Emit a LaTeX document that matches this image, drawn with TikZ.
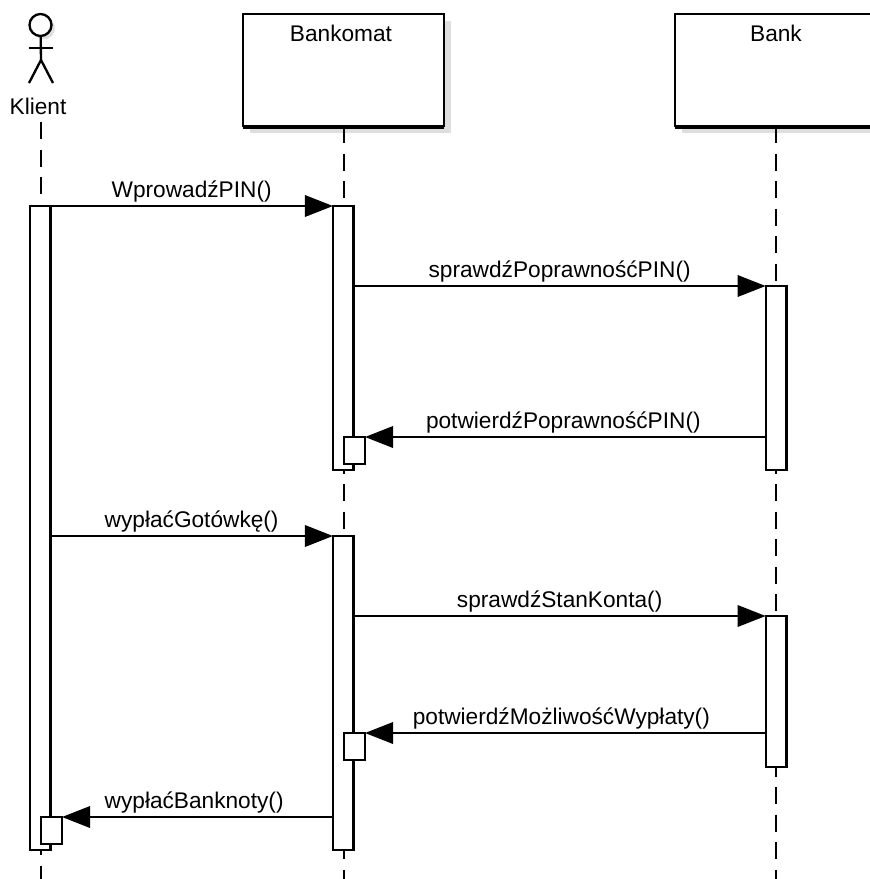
\documentclass[tikz,border=0pt]{standalone}
\usepackage{fontspec}
\setmainfont{Liberation Sans}
\usetikzlibrary{arrows.meta,shadows}

\tikzset{
  objbox/.style={draw, fill=white, line width=1.75pt, anchor=north west, inner sep=0pt, outer sep=0pt,
    minimum width=150.75pt, minimum height=84pt,
    drop shadow={shadow xshift=5.5pt, shadow yshift=-5.5pt, opacity=1, fill=black!13}},
  actbar/.style={draw, fill=white, line width=1.75pt, anchor=north, inner sep=0pt, outer sep=0pt, minimum width=15.5pt},
  subbar/.style={actbar, anchor=north west, minimum width=15.75pt, minimum height=20pt},
  lifeline/.style={line width=1.75pt, dash pattern=on 12.75pt off 7.91pt},
  msg/.style={line width=1.75pt, -{Triangle[length=21pt,width=16pt]}},
  msglabel/.style={anchor=base, yshift=6.75pt, inner sep=0pt},
}

\begin{document}
\begin{tikzpicture}[x=0.75pt, y=-0.75pt, font=\fontsize{17}{20}\selectfont]
\useasboundingbox (0,0) rectangle (869,879);

% lifeline ends
\coordinate (kTop) at (41,122);
\coordinate (kEnd) at (41,879);
\coordinate (atmEnd) at (344,879);
\coordinate (bankEnd) at (776,879);

% klient
\node[circle, draw, fill=white, line width=1.75pt, inner sep=0pt, outer sep=0pt, minimum size=16.5pt,
  drop shadow={shadow xshift=2.5pt, shadow yshift=-2.5pt, opacity=1, fill=black!13}] (kHead) at (40.5,25) {};
\coordinate (kHip) at (41,60);
\coordinate (kArmL) at (29,48);
\coordinate (kArmR) at (53,48);
\coordinate (kFootL) at (29,83);
\coordinate (kFootR) at (53,83);
\draw[line width=1.75pt] (kHead) -- (kHip);
\draw[line width=1.75pt] (kArmL) -- (kArmR);
\draw[line width=1.75pt] (kFootL) -- (kHip) -- (kFootR);
\node[anchor=base, inner sep=0pt] (kLabel) at (38,114) {Klient};

% objects
\node[objbox] (atmBox) at (243,14) {};
\node[objbox] (bankBox) at (675,14) {};
\draw[line width=1.75pt] ([yshift=-1.2pt]atmBox.south west) -- ([yshift=-1.2pt]atmBox.south east);
\draw[line width=1.75pt] ([yshift=-1.2pt]bankBox.south west) -- ([yshift=-1.2pt]bankBox.south east);
\node[anchor=base, inner sep=0pt] (atmLabel) at (341,41) {Bankomat};
\node[anchor=base, inner sep=0pt] (bankLabel) at (776,41) {Bank};

% lifelines
\draw[lifeline] (kTop) -- (kEnd);
\draw[lifeline] (atmBox.south -| atmEnd) -- (atmEnd);
\draw[lifeline] (bankBox.south -| bankEnd) -- (bankEnd);

% activations
\node[actbar, minimum height=483pt] (kBar) at (40,206) {};
\node[actbar, minimum height=198pt] (atmBarA) at (343.3,206) {};
\node[actbar, minimum height=235.5pt] (atmBarB) at (343.3,536) {};
\node[actbar, minimum height=138pt] (bankBarA) at (776,286) {};
\node[actbar, minimum height=113.25pt] (bankBarB) at (776,616) {};
\node[subbar] (atmSubA) at (344,437) {};
\node[subbar] (atmSubB) at (344,733) {};
\node[subbar] (kSub) at (41,817) {};

% messages
\draw[msg] (kBar.north east) -- node[msglabel] {WprowadźPIN()} (atmBarA.north west);
\draw[msg] (atmBarA.east |- bankBarA.north) -- node[msglabel] {sprawdźPoprawnośćPIN()} (bankBarA.north west);
\draw[msg] (bankBarA.west |- atmSubA.north) -- node[msglabel, xshift=-1.5pt] {potwierdźPoprawnośćPIN()} (atmSubA.north east);
\draw[msg] (kBar.east |- atmBarB.north) -- node[msglabel] {wypłaćGotówkę()} (atmBarB.north west);
\draw[msg] (atmBarB.east |- bankBarB.north) -- node[msglabel] {sprawdźStanKonta()} (bankBarB.north west);
\draw[msg] (bankBarB.west |- atmSubB.north) -- node[msglabel, xshift=-3pt] {potwierdźMożliwośćWypłaty()} (atmSubB.north east);
\draw[msg] (atmBarB.west |- kSub.north) -- node[msglabel, xshift=-2.5pt] {wypłaćBanknoty()} (kSub.north east);

\end{tikzpicture}
\end{document}
